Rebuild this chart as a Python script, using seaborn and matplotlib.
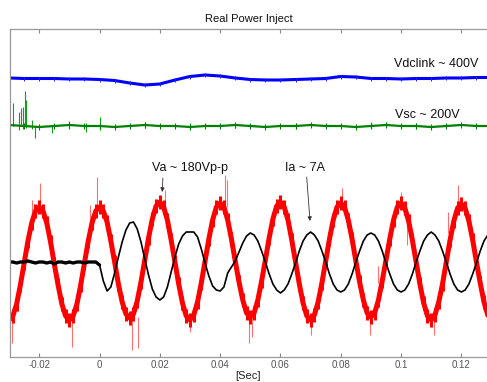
import numpy as np
import pandas as pd
import matplotlib
matplotlib.use("Agg")
import matplotlib.pyplot as plt
import seaborn as sns

# --- sample times of the fast traces (Va, Ia), one row = one 20 ms cycle ---
t_fast = [
    -0.03, -0.02875, -0.0275, -0.02625, -0.025, -0.02375, -0.0225, -0.02125,
    -0.02, -0.01875, -0.0175, -0.01625, -0.015, -0.01375, -0.0125, -0.01125,
    -0.01, -0.00875, -0.0075, -0.00625, -0.005, -0.00375, -0.0025, -0.00125,
    0.0, 0.00125, 0.0025, 0.00375, 0.005, 0.00625, 0.0075, 0.00875,
    0.01, 0.01125, 0.0125, 0.01375, 0.015, 0.01625, 0.0175, 0.01875,
    0.02, 0.02125, 0.0225, 0.02375, 0.025, 0.02625, 0.0275, 0.02875,
    0.03, 0.03125, 0.0325, 0.03375, 0.035, 0.03625, 0.0375, 0.03875,
    0.04, 0.04125, 0.0425, 0.04375, 0.045, 0.04625, 0.0475, 0.04875,
    0.05, 0.05125, 0.0525, 0.05375, 0.055, 0.05625, 0.0575, 0.05875,
    0.06, 0.06125, 0.0625, 0.06375, 0.065, 0.06625, 0.0675, 0.06875,
    0.07, 0.07125, 0.0725, 0.07375, 0.075, 0.07625, 0.0775, 0.07875,
    0.08, 0.08125, 0.0825, 0.08375, 0.085, 0.08625, 0.0875, 0.08875,
    0.09, 0.09125, 0.0925, 0.09375, 0.095, 0.09625, 0.0975, 0.09875,
    0.1, 0.10125, 0.1025, 0.10375, 0.105, 0.10625, 0.1075, 0.10875,
    0.11, 0.11125, 0.1125, 0.11375, 0.115, 0.11625, 0.1175, 0.11875,
    0.12, 0.12125, 0.1225, 0.12375, 0.125, 0.12625, 0.1275, 0.12875,
    0.13,
]

# Va trace (screen units, 0 = bottom of the frame)
va = [
    37, 41, 53, 72, 94, 116, 134, 146, 150, 146, 134, 115, 93, 72, 53, 41,
    37, 41, 53, 72, 94, 116, 134, 146, 150, 146, 135, 116, 95, 73, 55, 43,
    39, 43, 56, 75, 97, 119, 138, 151, 155, 150, 137, 117, 95, 73, 54, 41,
    37, 42, 55, 74, 96, 118, 137, 150, 154, 150, 137, 118, 96, 75, 57, 44,
    40, 44, 57, 76, 97, 119, 138, 151, 155, 150, 137, 117, 95, 73, 54, 41,
    37, 42, 55, 74, 96, 118, 137, 150, 154, 150, 137, 118, 96, 75, 57, 44,
    40, 44, 57, 76, 97, 118, 137, 150, 154, 149, 136, 117, 95, 73, 54, 41,
    37, 42, 55, 73, 95, 117, 136, 149, 153, 149, 136, 117, 95, 74, 55, 42,
    37,
]

# Ia trace
ia = [
    95, 95, 94, 95, 95, 96, 95, 94, 95, 95, 94, 95, 93, 95, 95, 94,
    95, 94, 95, 95, 94, 95, 95, 95, 92, 76, 66, 70, 84, 100, 115, 127,
    134, 135, 128, 115, 98, 82, 68, 60, 57, 60, 70, 85, 100, 113, 121, 125,
    125, 125, 120, 108, 94, 81, 71, 67, 66, 70, 84, 90, 96, 105, 114, 121,
    124, 122, 116, 106, 95, 83, 73, 67, 64, 67, 73, 83, 94, 106, 116, 122,
    125, 122, 116, 106, 95, 83, 73, 67, 65, 67, 73, 83, 95, 106, 116, 122,
    124, 122, 116, 106, 94, 83, 73, 67, 65, 67, 73, 83, 95, 106, 116, 122,
    125, 122, 116, 106, 95, 83, 73, 67, 65, 67, 73, 83, 94, 106, 116, 122,
    125,
]

# slow traces (Vdclink, Vsc), 5 ms steps
t_slow = [
    -0.03, -0.025, -0.02, -0.015, -0.01, -0.005, 0.0, 0.005, 0.01, 0.015, 0.02,
    0.025, 0.03, 0.035, 0.04, 0.045, 0.05, 0.055, 0.06, 0.065, 0.07, 0.075,
    0.08, 0.085, 0.09, 0.095, 0.1, 0.105, 0.11, 0.115, 0.12, 0.125, 0.13,
]
vdc = [
    279, 278.5, 278.5, 278.5, 278, 278, 277.5, 276.5, 274, 272, 273,
    277, 280.5, 282, 281, 279, 277.5, 277, 277, 277.5, 278, 278.5,
    280.5, 280, 278.5, 278.5, 278, 278.5, 278.5, 279, 279, 279.5, 279.5,
]
vsc = [
    232, 231, 230, 231, 232, 231, 231, 230, 231, 232, 231,
    231, 230, 231, 231, 232, 231, 230, 231, 231, 232, 231,
    231, 230, 231, 232, 231, 231, 230, 231, 232, 231, 231,
]

# noise spikes: time, low, high
vsc_spk_t = [-0.0288, -0.0266, -0.0260, -0.0255, -0.0247, -0.0244, -0.0225, -0.0214,
             -0.0158, -0.0100, -0.0045, 0.0002, 0.015, 0.030, 0.045, 0.065, 0.090, 0.105]
vsc_spk_lo = [231, 227, 231, 228, 231, 229, 228, 219, 224, 228, 225, 227, 229, 228, 229, 228, 229, 228]
vsc_spk_hi = [254, 245, 249, 250, 266, 257, 237, 231, 231, 236, 234, 240, 235, 234, 234, 234, 235, 234]

va_spk_t = [-0.0291, -0.0225, -0.0197, -0.0092, -0.0032, -0.0009, 0.0108, 0.0129, 0.0217,
            0.0300, 0.0416, 0.0422, 0.0494, 0.0505, 0.0702, 0.0803, 0.0857, 0.0898,
            0.0924, 0.1000, 0.1020, 0.1108, 0.1130, 0.1155, 0.1189]
va_spk_lo = [14, 134, 150, 10, 124, 148, 7, 9, 144, 25, 150, 150, 14, 20, 22, 154, 74, 22,
             74, 154, 112, 22, 57, 124, 153]
va_spk_hi = [40, 157, 174, 38, 152, 180, 40, 40, 167, 40, 182, 177, 40, 42, 40, 169, 94, 40,
             91, 165, 135, 40, 74, 145, 172]

xticks = [-0.02, 0, 0.02, 0.04, 0.06, 0.08, 0.1, 0.12]
xtick_labels = ["-0.02", "0", "0.02", "0.04", "0.06", "0.08", "0.1", "0.12"]

sns.set_theme(style="white")
plt.rcParams['font.family'] = ['Liberation Sans', 'DejaVu Sans']

fast = pd.DataFrame({"t": t_fast, "Va": va, "Ia": ia})
slow = pd.DataFrame({"t": t_slow, "Vdclink": vdc, "Vsc": vsc})

fig = plt.figure(figsize=(4.87, 3.82), dpi=100)
ax = fig.add_axes([10 / 487, 25 / 382, 477 / 487, 328 / 382])

# DC link and supercap voltages
sns.lineplot(data=slow, x="t", y="Vdclink", ax=ax, color="#0000ff", lw=2.2,
             marker="|", markersize=3.5, markeredgewidth=0.7, markeredgecolor="#2020ff")
ax.vlines(vsc_spk_t, vsc_spk_lo, vsc_spk_hi, color="#1a9a1a", lw=0.8)
sns.lineplot(data=slow, x="t", y="Vsc", ax=ax, color="#008000", lw=1.6,
             marker="|", markersize=4, markeredgewidth=0.8, markeredgecolor="#008000")

# phase voltage and current
ax.vlines(va_spk_t, va_spk_lo, va_spk_hi, color="#ff7070", lw=0.8)
sns.lineplot(data=fast, x="t", y="Va", ax=ax, color="#ff0000", lw=3.6,
             marker="|", markersize=10, markeredgewidth=2.2, markeredgecolor="#ff0000")
sns.lineplot(data=fast, x="t", y="Ia", ax=ax, color="black", lw=1.2)
sns.lineplot(data=fast[fast["t"] <= 0], x="t", y="Ia", ax=ax, color="black", lw=2.4)

# annotations
txt = dict(fontsize=9, color="#111111", va="center")
arr = dict(arrowstyle="-|>", color="#333333", lw=0.6, mutation_scale=6, shrinkA=0, shrinkB=0)
ax.text(0.0977, 293, "Vdclink ~ 400V", **txt)
ax.text(0.0980, 242, "Vsc ~ 200V", **txt)
ax.text(0.0174, 189, "Va ~ 180Vp-p", **txt)
ax.annotate("", xy=(0.0208, 165), xytext=(0.0210, 179), arrowprops=arr)
ax.text(0.0615, 189, "Ia ~ 7A", **txt)
ax.annotate("", xy=(0.0698, 136), xytext=(0.0687, 180), arrowprops=arr)

ax.set_xlim(-0.0297, 0.1285)
ax.set_ylim(0, 328)
ax.set_yticks([])
ax.set_xticks(xticks)
ax.set_xticklabels(xtick_labels)
ax.tick_params(axis="x", direction="in", length=3, width=0.8, top=True, bottom=True,
               colors="#888888", labelcolor="#555555", labelsize=7, pad=2)
for side in ["left", "top", "bottom"]:
    ax.spines[side].set_color("#999999")
    ax.spines[side].set_linewidth(0.9)
ax.spines["right"].set_visible(False)
ax.set_ylabel("")
ax.set_xlabel("[Sec]", fontsize=8, color="#222222", labelpad=1)
ax.set_title("Real Power Inject", fontsize=8, color="#111111", pad=5)
if ax.get_legend():
    ax.get_legend().remove()

fig.savefig("out.png", dpi=100)
